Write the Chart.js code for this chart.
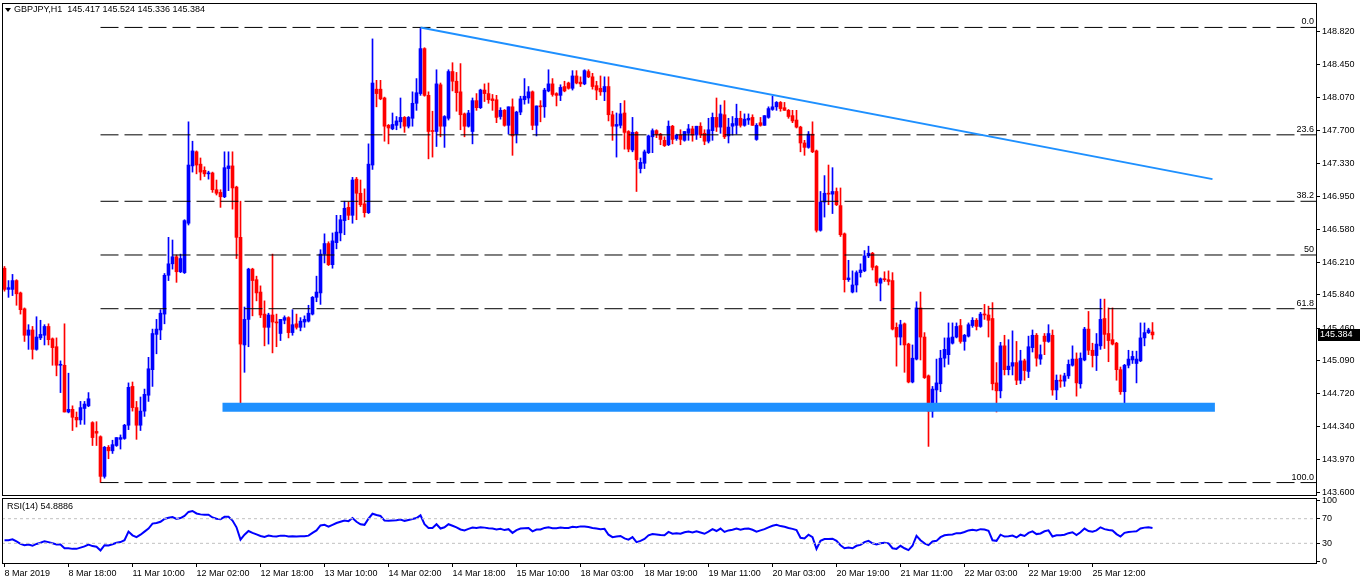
<!DOCTYPE html>
<html>
<head>
<meta charset="utf-8">
<script src="https://cdn.jsdelivr.net/npm/chart.js@4.4.1/dist/chart.umd.min.js"></script>
<style>
  html, body { margin: 0; padding: 0; background: #fff; }
  #wrap { position: relative; width: 1362px; height: 584px; overflow: hidden; }
  canvas { position: absolute; left: 0; }
  #main { top: 0; }
  #rsi { top: 490px; }
</style>
</head>
<body>
<div id="wrap">
  <canvas id="main" width="1362" height="497"></canvas>
  <canvas id="rsi" width="1362" height="94"></canvas>
</div>
<script>
// GBPJPY H1, one entry per hourly bar (index 0 = 8 Mar 02:00)
const opens = [
  146.14,145.90,145.90,146.00,145.86,145.68,145.38,145.44,145.22,145.35,
  145.38,145.48,145.34,145.25,145.04,145.04,144.51,144.54,144.45,144.42,
  144.55,144.58,144.39,144.29,144.23,143.78,144.11,144.07,144.13,144.20,
  144.21,144.36,144.80,144.56,144.36,144.52,144.70,144.99,145.39,145.44,
  145.62,146.06,146.19,146.27,146.10,146.09,146.65,147.30,147.46,147.32,
  147.25,147.21,147.22,147.03,147.00,146.95,147.27,147.30,147.06,146.49,
  145.27,145.56,146.13,146.01,145.87,145.62,145.47,145.61,145.53,145.40,
  145.55,145.58,145.41,145.51,145.47,145.53,145.54,145.62,145.81,145.86,
  146.30,146.42,146.18,146.43,146.54,146.68,146.83,146.74,147.15,146.99,
  146.87,146.77,147.31,148.17,148.17,148.07,147.76,147.72,147.76,147.80,
  147.85,147.75,147.84,148.01,148.12,148.63,148.10,147.70,147.69,148.22,
  147.75,147.84,148.37,148.26,148.14,147.89,147.75,147.69,148.04,147.96,
  148.16,148.12,148.06,148.05,147.86,147.93,147.76,147.97,147.66,147.91,
  148.05,148.07,148.14,147.76,147.98,147.97,148.15,148.23,148.12,148.10,
  148.20,148.24,148.18,148.32,148.25,148.23,148.37,148.31,148.21,148.18,
  148.14,148.20,147.88,147.75,147.76,147.90,147.69,147.48,147.68,147.27,
  147.33,147.45,147.63,147.70,147.66,147.59,147.54,147.75,147.61,147.65,
  147.59,147.67,147.72,147.65,147.75,147.67,147.58,147.70,147.85,147.74,
  147.88,147.64,147.75,147.76,147.84,147.76,147.82,147.85,147.60,147.79,
  147.76,147.85,147.94,147.97,148.02,147.96,147.93,147.87,147.82,147.74,
  147.56,147.51,147.66,147.47,146.57,146.89,146.99,146.98,147.01,146.85,
  146.53,146.01,145.87,145.95,146.09,146.11,146.28,146.31,146.16,145.97,
  146.02,146.01,146.00,145.47,145.36,145.51,145.28,144.85,145.11,145.69,
  145.36,144.92,144.52,144.76,144.83,145.12,145.16,145.29,145.36,145.49,
  145.31,145.37,145.49,145.55,145.48,145.62,145.61,145.57,144.84,144.75,
  145.26,144.99,145.03,145.07,144.87,145.09,144.97,145.24,145.38,145.11,
  145.37,145.31,145.38,144.76,144.87,144.86,144.92,145.04,145.11,144.83,
  145.10,145.45,145.21,145.15,145.26,145.57,145.40,145.33,145.29,144.99,
  144.74,145.04,145.10,145.06,145.09,145.35,145.41,145.417
];
const highs = [
  146.16,146.00,146.07,146.01,145.87,145.69,145.50,145.48,145.59,145.55,
  145.50,145.51,145.35,145.35,145.09,145.51,144.95,144.58,144.51,144.63,
  144.63,144.73,144.40,144.40,144.24,144.12,144.13,144.19,144.22,144.25,
  144.37,144.84,144.85,144.63,144.68,144.77,145.13,145.45,145.56,145.67,
  146.08,146.49,146.46,146.29,146.30,146.69,147.80,147.58,147.47,147.39,
  147.29,147.24,147.23,147.14,147.03,147.46,147.46,147.46,147.07,146.90,
  145.70,146.14,146.14,146.05,145.94,145.77,145.63,146.30,145.62,145.56,
  145.60,145.59,145.67,145.62,145.58,145.60,145.72,145.82,146.05,146.35,
  146.53,146.44,146.54,146.74,146.74,146.90,146.89,147.17,147.17,147.14,
  147.04,147.55,148.74,148.27,148.27,148.08,147.77,147.90,147.86,148.07,
  147.86,147.86,148.14,148.29,148.87,148.64,148.14,147.92,148.39,148.24,
  147.87,148.39,148.47,148.36,148.46,147.90,147.93,148.07,148.12,148.17,
  148.23,148.24,148.11,148.10,147.96,147.94,147.97,148.06,147.92,148.09,
  148.29,148.20,148.15,147.98,148.04,148.18,148.39,148.29,148.13,148.22,
  148.26,148.25,148.38,148.38,148.31,148.39,148.39,148.35,148.26,148.32,
  148.31,148.31,147.92,147.90,148.01,148.04,147.70,147.85,147.69,147.39,
  147.48,147.65,147.72,147.71,147.67,147.63,147.81,147.76,147.66,147.71,
  147.69,147.77,147.75,147.75,147.79,147.71,147.84,147.90,148.07,147.99,
  148.04,147.84,147.86,148.00,147.92,147.89,147.89,147.88,147.78,147.85,
  147.87,147.97,148.09,148.03,148.03,148.02,147.94,147.93,147.93,147.75,
  147.59,147.69,147.80,147.48,147.01,147.19,147.31,147.28,147.05,147.05,
  146.54,146.23,146.11,146.11,146.19,146.34,146.39,146.32,146.17,146.03,
  146.10,146.11,146.09,145.52,145.55,145.52,145.29,145.27,145.76,145.87,
  145.41,144.93,144.80,145.11,145.21,145.35,145.52,145.52,145.52,145.56,
  145.39,145.52,145.58,145.57,145.64,145.73,145.71,145.75,145.07,145.30,
  145.38,145.33,145.43,145.31,145.21,145.11,145.37,145.44,145.40,145.27,
  145.40,145.50,145.44,144.93,144.93,144.95,145.10,145.26,145.18,145.18,
  145.47,145.65,145.29,145.40,145.79,145.79,145.69,145.69,145.30,145.02,
  145.05,145.21,145.20,145.20,145.52,145.52,145.46,145.524
];
const lows = [
  145.88,145.81,145.83,145.72,145.62,145.31,145.22,145.11,145.21,145.33,
  145.27,145.27,145.04,144.92,144.73,144.51,144.50,144.30,144.34,144.37,
  144.37,144.57,144.13,144.13,143.71,143.76,143.98,144.04,144.12,144.09,
  144.20,144.31,144.52,144.20,144.30,144.46,144.63,144.80,145.17,145.33,
  145.51,146.00,146.13,145.98,146.09,146.08,146.63,147.23,147.21,147.14,
  147.18,147.15,147.00,146.97,146.83,146.94,147.02,146.81,146.25,144.57,
  144.96,145.25,145.60,145.77,145.58,145.26,145.28,145.18,145.25,145.32,
  145.51,145.35,145.38,145.45,145.43,145.47,145.53,145.61,145.76,145.73,
  146.20,146.17,146.14,146.36,146.45,146.52,146.69,146.65,146.69,146.84,
  146.72,146.76,147.26,147.97,148.05,147.58,147.55,147.71,147.71,147.73,
  147.68,147.73,147.75,147.93,148.10,148.09,147.38,147.40,147.52,147.63,
  147.51,147.82,148.15,147.92,147.71,147.63,147.74,147.55,147.93,147.95,
  148.03,148.01,147.93,147.79,147.83,147.75,147.66,147.42,147.56,147.88,
  148.00,148.01,147.71,147.64,147.80,147.85,148.14,148.09,147.98,148.04,
  148.14,148.17,148.16,148.23,148.20,148.22,148.30,148.17,148.05,148.10,
  148.04,147.81,147.59,147.40,147.73,147.49,147.46,147.46,147.01,147.22,
  147.27,147.44,147.45,147.62,147.54,147.52,147.53,147.55,147.59,147.54,
  147.58,147.59,147.58,147.60,147.62,147.54,147.56,147.59,147.69,147.67,
  147.61,147.56,147.65,147.66,147.74,147.75,147.77,147.76,147.59,147.75,
  147.76,147.84,147.93,147.93,147.92,147.93,147.84,147.79,147.73,147.46,
  147.42,147.50,147.45,146.55,146.56,146.72,146.86,146.76,146.85,146.50,
  145.87,145.99,145.86,145.87,146.04,146.10,146.26,146.12,145.94,145.77,
  145.99,145.95,145.44,145.03,145.27,144.96,144.84,144.84,145.10,145.10,
  144.89,144.12,144.45,144.55,144.74,145.02,145.05,145.28,145.35,145.29,
  145.21,145.36,145.47,145.44,145.47,145.56,145.36,144.76,144.51,144.67,
  144.93,144.93,144.93,144.82,144.83,144.87,144.90,145.19,145.03,145.05,
  145.16,145.30,144.70,144.65,144.79,144.80,144.89,145.03,144.69,144.78,
  145.09,145.16,145.02,144.98,145.22,145.23,145.08,145.27,144.87,144.71,
  144.61,145.01,145.06,144.84,145.08,145.26,145.40,145.336
];
const closes = [
  145.90,145.92,146.00,145.85,145.67,145.38,145.44,145.22,145.36,145.39,
  145.48,145.33,145.24,145.04,145.05,144.51,144.54,144.45,144.42,144.56,
  144.60,144.66,144.22,144.27,143.78,144.11,144.07,144.14,144.22,144.22,
  144.36,144.79,144.56,144.36,144.52,144.71,145.00,145.40,145.45,145.63,
  146.06,146.19,146.27,146.10,146.25,146.68,147.31,147.47,147.31,147.23,
  147.21,147.22,147.03,146.99,146.95,147.28,147.30,147.05,146.49,145.28,
  145.56,146.13,146.00,145.86,145.61,145.47,145.61,145.53,145.52,145.56,
  145.58,145.41,145.50,145.47,145.54,145.56,145.63,145.81,145.87,146.30,
  146.42,146.18,146.45,146.55,146.69,146.82,146.74,147.14,146.99,146.86,
  146.77,147.32,148.24,148.12,148.06,147.75,147.73,147.77,147.81,147.85,
  147.75,147.85,148.01,148.13,148.63,148.10,147.69,147.69,148.23,147.75,
  147.86,148.37,148.26,148.13,147.88,147.75,147.90,148.04,147.96,148.16,
  148.12,148.05,148.04,147.85,147.93,147.76,147.97,147.64,147.91,148.06,
  148.09,148.14,147.76,147.98,147.97,148.16,148.23,148.11,148.10,148.19,
  148.15,148.18,148.32,148.24,148.23,148.38,148.31,148.20,148.16,148.14,
  148.20,147.88,147.75,147.77,147.89,147.68,147.49,147.68,147.37,147.34,
  147.46,147.64,147.70,147.66,147.60,147.53,147.75,147.60,147.65,147.60,
  147.69,147.72,147.65,147.75,147.65,147.58,147.71,147.85,147.74,147.89,
  147.63,147.74,147.78,147.84,147.76,147.83,147.84,147.76,147.76,147.76,
  147.87,147.95,147.97,148.02,147.95,147.93,147.86,147.81,147.74,147.56,
  147.51,147.66,147.46,146.57,146.89,146.99,146.98,147.01,146.86,146.52,
  146.01,146.03,145.95,146.09,146.12,146.28,146.31,146.15,145.98,146.02,
  146.01,145.99,145.45,145.36,145.50,145.27,144.85,145.12,145.69,145.36,
  144.90,144.52,144.77,144.84,145.12,145.22,145.35,145.36,145.48,145.31,
  145.38,145.50,145.55,145.48,145.62,145.61,145.55,144.83,144.75,145.26,
  144.99,145.03,145.07,144.87,145.09,144.98,145.25,145.38,145.12,145.16,
  145.31,145.40,144.76,144.87,144.86,144.92,145.05,145.11,144.84,145.12,
  145.45,145.21,145.15,145.28,145.56,145.39,145.32,145.28,144.99,144.74,
  145.04,145.11,145.14,145.11,145.35,145.41,145.44,145.384
];
const rsiValues = [
  35, 35, 36.5, 33, 29, 27, 28, 26, 29, 31, 33.5, 32, 30, 28, 28, 22,
  22, 21, 21, 23, 25, 28, 25.5, 24.5, 18.5, 27, 26.5, 28.5, 31, 32, 35, 49,
  43, 40, 44, 49, 54, 62, 63, 65, 69.5, 71.5, 72.5, 69.5, 71, 74.5, 81, 82.5,
  78.5, 77, 76.5, 76.5, 72, 70, 69, 73, 73, 67, 56, 36, 44, 50, 47, 44.5,
  42, 40.5, 42.5, 41.5, 41, 42.5, 42.5, 41, 41.5, 41, 41.5, 41.5, 42.5, 47, 51, 59,
  60, 57, 60, 63, 65, 67, 66, 71, 65, 61, 60, 70, 78, 76, 74.5, 67,
  66.5, 67, 67.5, 68.5, 66.5, 68, 69.5, 71, 75.5, 61, 55, 55, 61, 54, 56, 61,
  58.5, 56, 52.5, 51, 53.5, 55.5, 55, 56, 55.5, 54.5, 54, 52.5, 53.5, 51.5, 53, 47,
  51.5, 54, 54.5, 55, 49.5, 52.5, 52.5, 55, 56, 54.5, 54.5, 55.5, 55, 55, 57, 56,
  57.5, 57.5, 56.5, 55, 54, 53, 53.5, 44, 40, 41, 42, 38, 36, 40, 32, 34,
  37, 43, 45, 44.5, 43.5, 43, 48.5, 45.5, 46.5, 45.5, 48, 49, 47.5, 49.5, 47.5, 45.5,
  49, 53, 50, 54, 48.5, 51, 52, 54, 52, 53.5, 54, 52, 49, 51, 53, 56,
  58.5, 60, 58, 57, 55, 53.5, 51.5, 39, 38, 44, 40, 21, 34, 37, 37, 37.5,
  34, 27, 22, 23, 22, 26, 27.5, 32, 34, 30, 28, 30, 31, 30, 22, 21,
  26, 22, 19, 26, 42, 35, 30, 27, 33, 34, 40, 43, 44, 44.5, 46.5, 46.5,
  48.5, 51, 52, 51, 53, 52.5, 50.5, 35, 34, 44, 41, 41.5, 42.5, 39.5, 44, 42,
  47, 49.5, 45, 46, 49.5, 51, 41, 43, 43, 44, 46.5, 48, 43.5, 48, 54, 50,
  49, 51, 56, 53, 51.5, 51, 45, 41, 47, 48.5, 49, 49.5, 54, 55.5, 56, 54.8886
];
const timeLabels = [
  '8 Mar 2019', '8 Mar 18:00', '11 Mar 10:00', '12 Mar 02:00', '12 Mar 18:00',
  '13 Mar 10:00', '14 Mar 02:00', '14 Mar 18:00', '15 Mar 10:00', '18 Mar 03:00',
  '18 Mar 19:00', '19 Mar 11:00', '20 Mar 03:00', '20 Mar 19:00', '21 Mar 11:00',
  '22 Mar 03:00', '22 Mar 19:00', '25 Mar 12:00'
];
const barsPerLabel = 16;
const priceTicks = [143.600, 143.970, 144.340, 144.720, 145.090, 145.460, 145.840,
  146.210, 146.580, 146.950, 147.330, 147.700, 148.070, 148.450, 148.820];
const rsiTicks = [0, 30, 70, 100];
const rsiLevels = [70, 30];

// drawn objects: fibonacci from the 8 Mar low to the 14 Mar high, falling trendline, support zone
const fibRatios = [0, 23.6, 38.2, 50, 61.8, 100];
const fibNames = ['0.0', '23.6', '38.2', '50', '61.8', '100.0'];
const fibHigh = 148.87, fibLow = 143.71, fibStartBar = 24;
const trendBars = [104, 302], trendPrices = [148.87, 147.15];
const zoneBars = [54.5, 302.6], zonePrice = 144.565;

const X_MIN = -0.625, X_MAX = 327.875;
const FONT = { family: '"Liberation Sans", Arial, sans-serif', size: 9 };
const BULL = '#0000ff', BEAR = '#ff0000', OBJ = '#1e90ff';

const candleColors = closes.map((c, i) => (c >= opens[i] ? BULL : BEAR));
const fibPrice = r => fibHigh - r / 100 * (fibHigh - fibLow);

const framePlugin = {
  id: 'frame',
  afterDraw(chart) {
    const { ctx, chartArea: a } = chart;
    ctx.save();
    ctx.strokeStyle = '#000';
    ctx.lineWidth = 1;
    ctx.strokeRect(Math.round(a.left) + 0.5, Math.round(a.top) + 0.5,
      Math.round(a.right - a.left), Math.round(a.bottom - a.top));
    ctx.restore();
  }
};

const mainTextPlugin = {
  id: 'mainText',
  afterDraw(chart) {
    const { ctx } = chart;
    const y = chart.scales.y;
    const n = closes.length - 1;
    ctx.save();
    ctx.font = '9px "Liberation Sans", Arial, sans-serif';
    ctx.fillStyle = '#000';
    // header
    ctx.beginPath();
    ctx.moveTo(5, 8); ctx.lineTo(11, 8); ctx.lineTo(8, 12); ctx.closePath();
    ctx.fill();
    ctx.textBaseline = 'middle';
    ctx.textAlign = 'left';
    ctx.fillText('GBPJPY,H1  ' + [opens[n], highs[n], lows[n], closes[n]].map(v => v.toFixed(3)).join(' '), 14, 10);
    // fib level names
    ctx.textAlign = 'right';
    ctx.textBaseline = 'alphabetic';
    fibRatios.forEach((r, k) => {
      ctx.fillText(fibNames[k], chart.chartArea.right - 2, y.getPixelForValue(fibPrice(r)) - 3);
    });
    // last price box
    const py = Math.round(y.getPixelForValue(closes[n]));
    ctx.fillRect(chart.chartArea.right + 2, py - 6, 42, 12);
    ctx.fillStyle = '#fff';
    ctx.textAlign = 'left';
    ctx.textBaseline = 'middle';
    ctx.fillText(closes[n].toFixed(3), chart.chartArea.right + 4, py);
    ctx.restore();
  }
};

const rsiTextPlugin = {
  id: 'rsiText',
  afterDraw(chart) {
    const { ctx, chartArea: a } = chart;
    ctx.save();
    ctx.font = '9px "Liberation Sans", Arial, sans-serif';
    ctx.fillStyle = '#000';
    ctx.textBaseline = 'middle';
    ctx.fillText('RSI(14) ' + rsiValues[rsiValues.length - 1].toFixed(4), a.left + 5, a.top + 9);
    ctx.restore();
  }
};

function rightAxis(min, max, ticks, fmt) {
  return {
    position: 'right', min, max,
    afterBuildTicks: s => { s.ticks = ticks.map(v => ({ value: v })); },
    afterFit: s => { s.width = 46; s.paddingTop = 0; s.paddingBottom = 0; },
    ticks: { font: FONT, color: '#000', padding: 2, autoSkip: false, callback: fmt },
    grid: { drawOnChartArea: false, tickLength: 4, color: '#000' },
    border: { display: false }
  };
}

new Chart(document.getElementById('main'), {
  type: 'bar',
  data: {
    datasets: [
      {
        type: 'line', order: -2,
        data: trendBars.map((b, k) => ({ x: b, y: trendPrices[k] })),
        borderColor: OBJ, borderWidth: 2, pointRadius: 0
      },
      {
        type: 'line', order: -2,
        data: zoneBars.map(b => ({ x: b, y: zonePrice })),
        borderColor: OBJ, borderWidth: 9, borderCapStyle: 'butt', pointRadius: 0
      },
      ...fibRatios.map(r => ({
        type: 'line', order: -1,
        data: [{ x: fibStartBar, y: fibPrice(r) }, { x: X_MAX, y: fibPrice(r) }],
        borderColor: '#000', borderWidth: 1, borderDash: [18, 6], pointRadius: 0
      })),
      {
        order: 0, grouped: false, barThickness: 3, minBarLength: 1,
        data: opens.map((o, i) => ({ x: i, y: [o, closes[i]] })),
        backgroundColor: candleColors
      },
      {
        order: 1, grouped: false, barThickness: 1,
        data: highs.map((h, i) => ({ x: i, y: [lows[i], h] })),
        backgroundColor: candleColors
      }
    ]
  },
  options: {
    responsive: false, animation: false, devicePixelRatio: 1, events: [],
    layout: { padding: { left: 2, top: 3, right: 0, bottom: 2 } },
    plugins: { legend: { display: false }, tooltip: { enabled: false } },
    scales: {
      x: { type: 'linear', min: X_MIN, max: X_MAX, offset: false, display: false },
      y: rightAxis(143.569, 149.147, priceTicks, v => v.toFixed(3))
    }
  },
  plugins: [framePlugin, mainTextPlugin]
});

new Chart(document.getElementById('rsi'), {
  type: 'line',
  data: {
    datasets: [
      ...rsiLevels.map(l => ({
        data: [{ x: X_MIN, y: l }, { x: X_MAX, y: l }],
        borderColor: '#c0c0c0', borderWidth: 1, borderDash: [3, 3], pointRadius: 0
      })),
      {
        data: rsiValues.map((v, i) => ({ x: i, y: v })),
        borderColor: BULL, borderWidth: 2, pointRadius: 0, tension: 0
      }
    ]
  },
  options: {
    responsive: false, animation: false, devicePixelRatio: 1, events: [],
    layout: { padding: { left: 2, top: 8, right: 0, bottom: 0 } },
    plugins: { legend: { display: false }, tooltip: { enabled: false } },
    scales: {
      x: {
        type: 'linear', min: X_MIN, max: X_MAX, offset: false,
        afterBuildTicks: s => { s.ticks = timeLabels.map((_, k) => ({ value: k * barsPerLabel })); },
        afterFit: s => { s.height = 21; s.paddingLeft = 0; s.paddingRight = 0; },
        ticks: {
          font: FONT, color: '#000', align: 'start', maxRotation: 0, autoSkip: false, padding: 1,
          callback: v => timeLabels[Math.round(v / barsPerLabel)]
        },
        grid: { drawOnChartArea: false, tickLength: 4, color: '#000' },
        border: { display: false }
      },
      y: rightAxis(-1.95, 103.6, rsiTicks, v => String(v))
    }
  },
  plugins: [framePlugin, rsiTextPlugin]
});
</script>
</body>
</html>
